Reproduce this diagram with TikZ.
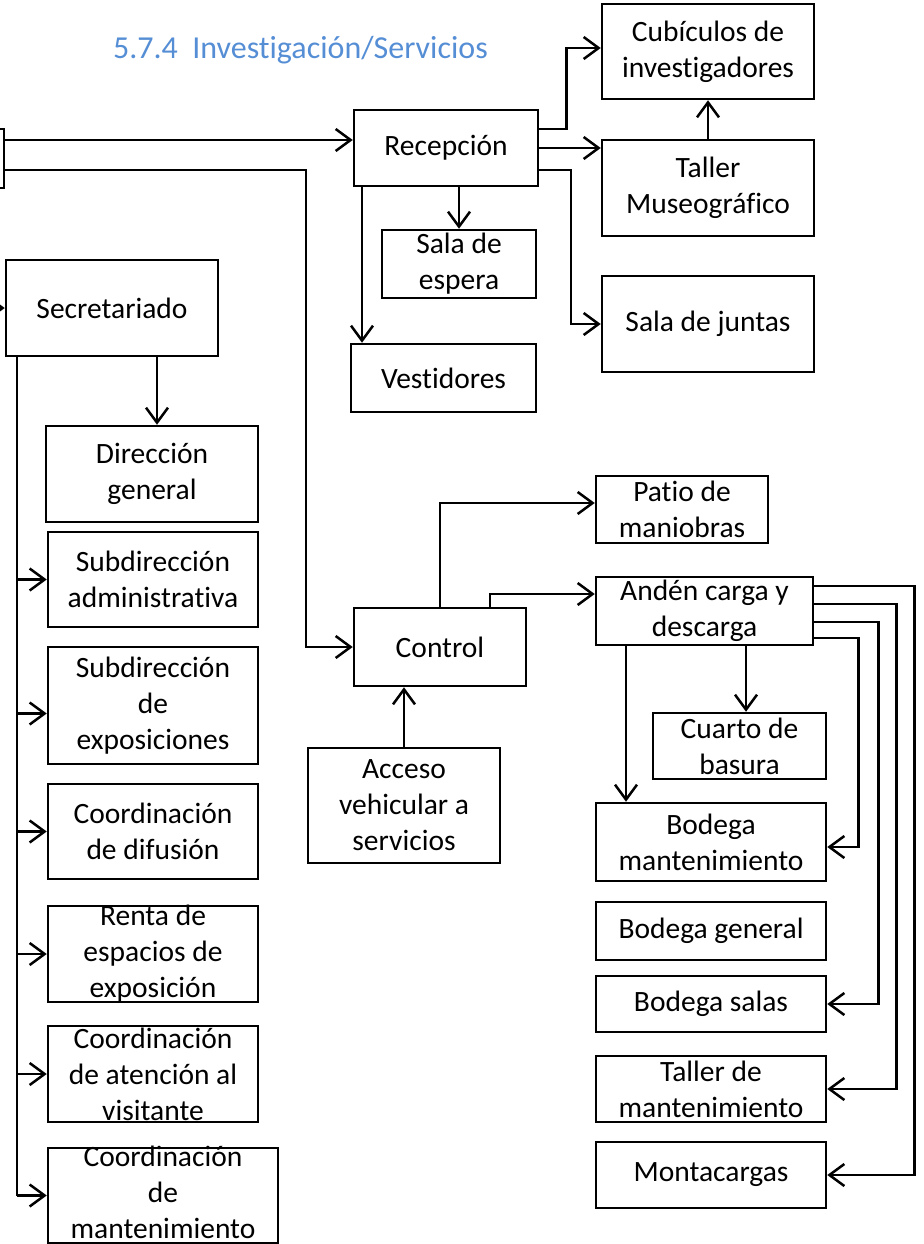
\documentclass[tikz,border=0pt]{standalone}
\usepackage{fontspec}
\setmainfont{Carlito}[Ligatures=CommonOff]
\usetikzlibrary{arrows.meta}
\definecolor{titleblue}{RGB}{85,142,213}
\newcommand\Bx[6]{%
  \node[box, minimum width=#4pt, minimum height=#5pt] (#1) at (#2,#3) {};
  \node[txt] (#1-t) at (#1.center) {#6};}
\begin{document}
\begin{tikzpicture}[x=1pt,y=-1pt,
  box/.style={draw, line width=2.5pt, inner sep=0pt, rectangle},
  txt/.style={align=center, inner sep=0pt, font=\fontsize{29.5}{36}\selectfont},
  arr/.style={line width=2.5pt, -{Straight Barb[length=15pt,width=22pt]}},
  ln/.style={line width=2.5pt}]
\useasboundingbox (0,0) rectangle (923,1244);

\node[text=titleblue, font=\fontsize{32}{38}\selectfont, inner sep=0pt] (title) at (300.5,50) {5.7.4\hspace{0.45em}Investigación/Servicios};

% top part
\node[box, minimum width=54pt, minimum height=59pt] (part) at (-23,158.5) {};
\Bx{rec}{446}{148}{184}{76}{Recepción}
\Bx{cub}{708}{51.5}{212}{95}{Cubículos de\\investigadores}
\Bx{tal}{708}{188}{212}{96}{Taller\\Museográfico}
\Bx{sj}{708}{324}{212}{96}{Sala de juntas}
\Bx{se}{459}{264}{154}{68}{Sala de\\espera}
\Bx{ves}{443.5}{378}{185}{68}{Vestidores}

% left column
\Bx{sec}{112}{308}{212}{96}{Secretariado}
\Bx{dir}{152}{474}{212}{96}{Dirección\\general}
\Bx{sa}{153}{579.5}{210}{95}{Subdirección\\administrativa}
\Bx{sx}{153}{705.5}{210}{117}{Subdirección\\de\\exposiciones}
\Bx{cd}{153}{831.5}{210}{95}{Coordinación\\de difusión}
\Bx{re}{153}{954}{210}{96}{Renta de\\espacios de\\exposición}
\Bx{ca}{153}{1074}{210}{96}{Coordinación\\de atención al\\visitante}
\node[box, minimum width=230pt, minimum height=95pt] (cm) at (163,1195.5) {};
\node[txt] (cm-t) at ([yshift=3pt]cm.center) {Coordinación\\de\\mantenimiento};

% control area
\Bx{ctl}{440}{647}{172}{78}{Control}
\Bx{acc}{404}{805.5}{192}{115}{Acceso\\vehicular a\\servicios}
\Bx{pat}{682}{509.5}{172}{67}{Patio de\\maniobras}
\Bx{and}{704.5}{611}{217}{68}{Andén carga y\\descarga}
\Bx{cb}{739.5}{746}{173}{66}{Cuarto de\\basura}
\Bx{bm}{711}{842}{230}{78}{Bodega\\mantenimiento}
\Bx{bg}{711}{931}{230}{58}{Bodega general}
\Bx{bs}{711}{1004}{230}{56}{Bodega salas}
\Bx{tm}{711}{1089}{230}{66}{Taller de\\mantenimiento}
\Bx{mc}{711}{1175}{230}{66}{Montacargas}

% connectors top
\coordinate (r1) at ([yshift=8pt]rec.west);
\draw[arr] (part.east |- r1) -- (r1);
\draw[arr] ([yshift=-11.5pt]part.east) -| ([xshift=-47pt]ctl.west) -- (ctl.west);
\draw[arr] ([yshift=19pt]rec.east) -- ++(27,0) |- ([yshift=3.5pt]cub.west);
\draw[arr] (rec.east) -- (rec.east -| tal.west);
\draw[arr] ([yshift=-22pt]rec.east) -| ([xshift=-30pt]sj.west) -- (sj.west);
\draw[arr] (tal.north) -- (cub.south);
\draw[arr] (rec.south -| se.north) -- (se.north);
\coordinate (rv) at ([xshift=-84pt]rec.south);
\draw[arr] (rv) -- (rv |- ves.north);

% left column connectors
\coordinate (secin) at (-20,308);
\draw[arr] (secin) -- (secin -| sec.west);
\coordinate (sd) at ([xshift=5pt]dir.north);
\draw[arr] (sec.south -| sd) -- (sd);
\coordinate (bus) at ([xshift=-95pt]sec.south);
\draw[ln] (bus) -- (bus |- cm.west);
\draw[arr] (bus |- sa.west) -- (sa.west);
\coordinate (sxin) at ([yshift=-8pt]sx.west);
\draw[arr] (bus |- sxin) -- (sxin);
\draw[arr] (bus |- cd.west) -- (cd.west);
\draw[arr] (bus |- re.west) -- (re.west);
\draw[arr] (bus |- ca.west) -- (ca.west);
\draw[arr] (bus |- cm.west) -- (cm.west);

% control connectors
\draw[arr] (acc.north) -- (acc.north |- ctl.south);
\draw[arr] (ctl.north) |- ([yshift=6.5pt]pat.west);
\draw[arr] ([xshift=50pt]ctl.north) |- ([yshift=17pt]and.west);
\coordinate (ab) at ([xshift=41.5pt]and.south);
\draw[arr] (ab) -- (ab |- cb.north);
\coordinate (am) at ([xshift=-78.5pt]and.south);
\draw[arr] (am) -- (am |- bm.north);

% right loops
\draw[arr] ([yshift=25pt]and.east) -| ([xshift=87pt]mc.east) -- (mc.east);
\draw[arr] ([yshift=7pt]and.east) -| ([xshift=69pt]tm.east) -- (tm.east);
\draw[arr] ([yshift=-11pt]and.east) -| ([xshift=51pt]bs.east) -- (bs.east);
\draw[arr] ([yshift=-27pt]and.east) -| ([xshift=31pt,yshift=-5pt]bm.east) -- ([yshift=-5pt]bm.east);
\end{tikzpicture}
\end{document}
